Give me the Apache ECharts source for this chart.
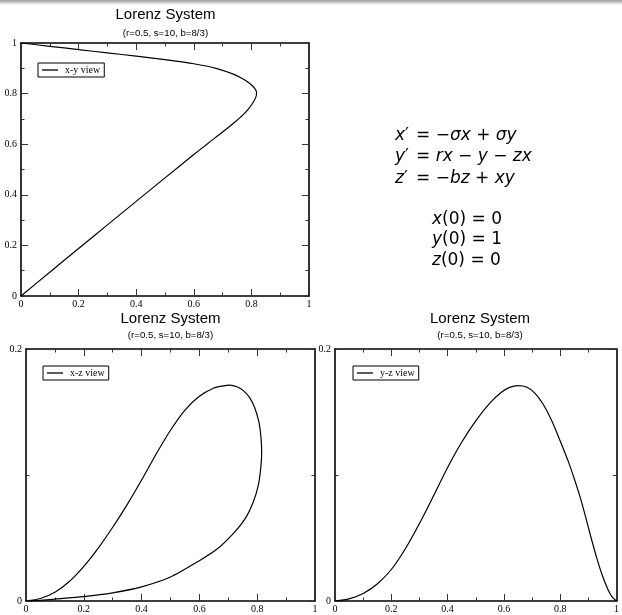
<!DOCTYPE html>
<html>
<head>
<meta charset="utf-8">
<script src="https://cdn.jsdelivr.net/npm/echarts@6/dist/echarts.min.js"></script>
<style>html,body{margin:0;padding:0;background:#fff;}#c{width:622px;height:615px;}</style>
</head>
<body>
<div id="c"></div>
<script>
// ---- data ----
// x-y view (trajectory projected on x,y), in time order
const xyX = [0, 0.1, 0.2, 0.3, 0.4, 0.5, 0.6, 0.68, 0.737, 0.78, 0.806, 0.816, 0.818, 0.815, 0.806, 0.79, 0.77, 0.745, 0.7, 0.65, 0.6, 0.5, 0.4, 0.3, 0.2, 0.1, 0];
const xyY = [1, 0.987, 0.974, 0.961, 0.948, 0.934, 0.918, 0.899, 0.877, 0.852, 0.828, 0.812, 0.800, 0.785, 0.765, 0.740, 0.715, 0.690, 0.648, 0.604, 0.559, 0.467, 0.374, 0.281, 0.188, 0.094, 0];
// x-z view, in time order
const xzX = [0, 0.05, 0.1, 0.2, 0.3, 0.4, 0.5, 0.6, 0.66, 0.717, 0.76, 0.787, 0.804, 0.812, 0.8155, 0.813, 0.806, 0.792, 0.775, 0.752, 0.73, 0.705, 0.68, 0.65, 0.60, 0.55, 0.50, 0.45, 0.40, 0.35, 0.30, 0.25, 0.20, 0.15, 0.10, 0.05, 0];
const xzZ = [0, 0.0006, 0.0015, 0.0035, 0.0065, 0.0112, 0.019, 0.032, 0.041, 0.0535, 0.066, 0.079, 0.092, 0.105, 0.118, 0.130, 0.142, 0.153, 0.161, 0.167, 0.170, 0.1713, 0.1706, 0.169, 0.1625, 0.1515, 0.1355, 0.1165, 0.096, 0.0765, 0.0585, 0.042, 0.0275, 0.0155, 0.007, 0.002, 0];
// y-z view, in time order
const yzY = [1, 0.985, 0.97, 0.95, 0.93, 0.91, 0.89, 0.87, 0.85, 0.83, 0.80, 0.77, 0.74, 0.71, 0.68, 0.65, 0.62, 0.59, 0.55, 0.50, 0.45, 0.40, 0.35, 0.30, 0.25, 0.20, 0.15, 0.10, 0.05, 0];
const yzZ = [0, 0.003, 0.009, 0.02, 0.034, 0.05, 0.067, 0.083, 0.097, 0.11, 0.127, 0.143, 0.156, 0.165, 0.1698, 0.171, 0.1695, 0.1655, 0.157, 0.143, 0.126, 0.106, 0.0835, 0.0615, 0.0415, 0.025, 0.0135, 0.006, 0.0017, 0];
// axis ranges / labels
const unitRange = [0, 1];
const zRange = [0, 0.2];
const titleText = 'Lorenz System';
const subText = '(r=0.5, s=10, b=8/3)';
const legendNames = ['x-y view', 'x-z view', 'y-z view'];

const pairs = (a, b) => a.map((v, i) => [v, b[i]]);

const serif = '"Liberation Serif", "DejaVu Serif", serif';
const sans = '"Liberation Sans", Arial, sans-serif';
const math = '"DejaVu Sans", sans-serif';

const grids = [
  {left: 21, top: 43, width: 288, height: 253},
  {left: 26, top: 349, width: 289, height: 252},
  {left: 335, top: 349, width: 290, height: 252}
];

function axisCommon(showLabel) {
  return {
    axisLine: {show: true, onZero: false, lineStyle: {color: '#000', width: 1.6}},
    axisTick: {show: true, inside: true, length: 7, lineStyle: {color: '#333', width: 1}},
    minorTick: {show: true, splitNumber: 2, length: 3.5, lineStyle: {color: '#333', width: 1}},
    splitLine: {show: false},
    minorSplitLine: {show: false},
    axisLabel: {show: showLabel, color: '#000', fontFamily: serif, fontSize: 10, margin: 4}
  };
}

const xAxes = [], yAxes = [];
const ranges = [[unitRange, unitRange], [unitRange, zRange], [unitRange, zRange]];
grids.forEach((g, i) => {
  const [xr, yr] = ranges[i];
  xAxes.push(Object.assign({type: 'value', gridIndex: i, position: 'bottom', min: xr[0], max: xr[1], interval: 0.2}, axisCommon(true)));
  xAxes.push(Object.assign({type: 'value', gridIndex: i, position: 'top', min: xr[0], max: xr[1], interval: 0.2}, axisCommon(false)));
  yAxes.push(Object.assign({type: 'value', gridIndex: i, position: 'left', min: yr[0], max: yr[1], interval: 0.2}, axisCommon(true)));
  yAxes.push(Object.assign({type: 'value', gridIndex: i, position: 'right', min: yr[0], max: yr[1], interval: 0.2}, axisCommon(false)));
});
xAxes.forEach(a => { if (a.position === 'bottom') a.axisLabel.margin = 3; });

const seriesData = [pairs(xyX, xyY), pairs(xzX, xzZ), pairs(yzY, yzZ)];
const series = seriesData.map((d, i) => ({
  type: 'line', name: legendNames[i], xAxisIndex: i * 2, yAxisIndex: i * 2,
  data: d, showSymbol: false, symbol: 'none', smooth: 0.25,
  lineStyle: {color: '#000', width: 1.2}, itemStyle: {color: '#000'},
  animation: false, silent: true
}));

const legendPos = [{left: 38, top: 63}, {left: 43, top: 366}, {left: 353, top: 366}];
const legends = legendNames.map((n, i) => ({
  data: [n], left: legendPos[i].left, top: legendPos[i].top,
  icon: 'rect', itemWidth: 16, itemHeight: 1.3, itemGap: 0,
  padding: [2, 4, 2, 4], borderColor: '#000', borderWidth: 1, borderRadius: 0,
  backgroundColor: '#fff', selectedMode: false,
  textStyle: {color: '#000', fontFamily: serif, fontSize: 10, padding: [0, 0, 0, 2]}
}));

const titleCenters = [[165.5, 14.5, 33], [170.5, 319.3, 335.7], [480, 319.3, 335.7]];
const graphics = [
  {type: 'rect', shape: {x: 0, y: 0, width: 622, height: 5}, silent: true,
   style: {fill: new echarts.graphic.LinearGradient(0, 0, 0, 1, [{offset: 0, color: '#9a9a9a'}, {offset: 1, color: '#ffffff'}])}}
];
titleCenters.forEach(([cx, ty, sy]) => {
  graphics.push({type: 'text', x: cx, y: ty, silent: true, style: {text: titleText, align: 'center', verticalAlign: 'middle', fill: '#000', font: '15px ' + sans}});
  graphics.push({type: 'text', x: cx, y: sy, silent: true, style: {text: subText, align: 'center', verticalAlign: 'middle', fill: '#000', font: '9.7px ' + sans}});
});

const rich = {
  i: {fontFamily: math, fontStyle: 'italic', fontSize: 17, fill: '#000'},
  n: {fontFamily: math, fontSize: 17, fill: '#000'}
};
function eq(x, y, text) {
  graphics.push({type: 'text', x: x, y: y, silent: true, style: {text: text, rich: rich, verticalAlign: 'middle', fill: '#000', font: '17px ' + math}});
}
eq(395, 136, '{i|x}{n|′}');
eq(416, 136, '{n|= −}{i|σx}{n| + }{i|σy}');
eq(395, 157, '{i|y}{n|′}');
eq(416, 157, '{n|= }{i|rx}{n| − }{i|y}{n| − }{i|zx}');
eq(395, 179, '{i|z}{n|′}');
eq(416, 179, '{n|= −}{i|bz}{n| + }{i|xy}');
eq(432, 220, '{i|x}{n|(0) = 0}');
eq(432, 240, '{i|y}{n|(0) = 1}');
eq(432, 261, '{i|z}{n|(0) = 0}');

const chart = echarts.init(document.getElementById('c'), null, {renderer: 'canvas'});
chart.setOption({
  backgroundColor: '#fff',
  animation: false,
  grid: grids,
  xAxis: xAxes,
  yAxis: yAxes,
  legend: legends,
  series: series,
  graphic: graphics
});
</script>
</body>
</html>
